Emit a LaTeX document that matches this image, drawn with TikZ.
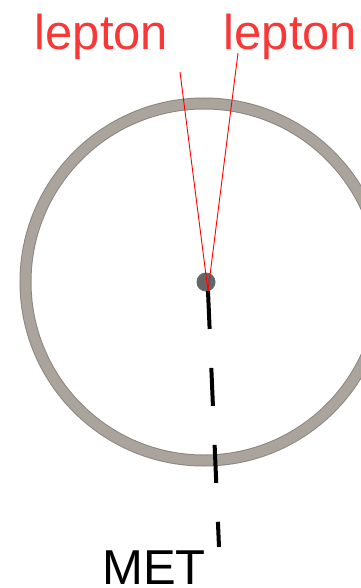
\documentclass[tikz,border=0pt]{standalone}
\usepackage{fontspec}
\setmainfont{Liberation Sans}
\definecolor{ringgray}{RGB}{170,164,157}
\definecolor{ringedge}{RGB}{138,134,129}
\definecolor{dotgray}{RGB}{102,102,102}
\definecolor{lepred}{RGB}{250,55,55}

\begin{document}
\begin{tikzpicture}[x=1pt,y=-1pt]
\tikzset{lab/.style={anchor=base,inner sep=0pt,font=\fontsize{49}{55}\selectfont}}
\useasboundingbox (0,0) rectangle (360,588);

% 検出器
\draw[ringedge,line width=12pt] (204,282) circle[radius=178.5pt];
\draw[ringgray,line width=10pt] (204,282) circle[radius=178.5pt];

% 衝突点
\node[circle,fill=dotgray,minimum size=19pt,inner sep=0pt] (vtx) at (206,282) {};
\coordinate (o) at (208,291);

% レプトン
\coordinate (l1) at (180,72);
\coordinate (l2) at (238,53);
\draw[red,line width=0.9pt] (o) -- (l1);
\draw[red,line width=0.9pt] (o) -- (l2);
\node[lab,text=lepred] (lep1) at (101.5,50) {lepton};
\node[lab,text=lepred] (lep2) at (290.5,50) {lepton};

% 消失運動量
\coordinate (m) at (219,547);
\draw[line width=4pt,dash pattern=on 38pt off 39pt] (o) -- (m);
\node[lab] (met) at (154,584.5) {MET};

\end{tikzpicture}
\end{document}
